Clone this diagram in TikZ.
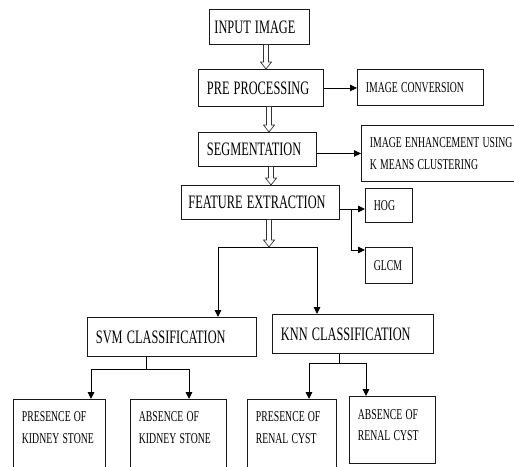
\documentclass[tikz,border=0pt]{standalone}
\usepackage{fontspec}
\usepackage{graphicx}
\setmainfont{Liberation Serif}
\newcommand{\sq}[1]{\scalebox{0.65}[1]{#1}}
\usetikzlibrary{arrows.meta,calc}
\tikzset{
  box/.style={draw=black!90, line width=0.9pt, rectangle, anchor=north west,
    align=left, inner ysep=0pt, inner xsep=8.5pt, font=\fontsize{19}{22}\selectfont},
  side/.style={box, font=\fontsize{15}{21.5}\selectfont},
  conn/.style={draw=black, line width=0.9pt},
  arr/.style={conn, -{Triangle[length=7pt,width=6.5pt]}},
  hollow/.style={draw=black!80, line width=0.7pt, fill=white}
}
\newcommand{\hollowdown}[3]{%
  \draw[hollow] let \p1=(#1.south), \p2=(#2) in
    ({#3pt-2.5pt},\y1) -- ({#3pt-2.5pt},{\y2+7pt}) -- ({#3pt-5.5pt},{\y2+7pt})
    -- ({#3pt},\y2) -- ({#3pt+5.5pt},{\y2+7pt}) -- ({#3pt+2.5pt},{\y2+7pt})
    -- ({#3pt+2.5pt},\y1);}
\begin{document}
\begin{tikzpicture}[x=1pt,y=-1pt]
\useasboundingbox (0,0) rectangle (514,466);
\clip (0,0) rectangle (514,466);
% main column
\node[box, minimum width=100pt, minimum height=35pt, text width=90pt, inner xsep=5pt] (input) at (209,9) {\sq{INPUT IMAGE}};
\node[box, minimum width=125pt, minimum height=37pt, text width=108pt] (pre) at (198,69) {\sq{PRE PROCESSING}};
\node[box, minimum width=118pt, minimum height=34pt, text width=101pt] (seg) at (198,132) {\sq{SEGMENTATION}};
\node[box, minimum width=158pt, minimum height=34pt, text width=144pt, inner xsep=7pt] (fe) at (181,185) {\sq{FEATURE EXTRACTION}};
% side boxes
\node[side, minimum width=126pt, minimum height=36pt, text width=109pt] (conv) at (357,69) {\sq{IMAGE CONVERSION}};
\node[side, minimum width=169pt, minimum height=56pt, text width=152pt] (enh) at (361,125) {\sq{IMAGE ENHANCEMENT USING}\\\sq{K MEANS CLUSTERING}};
\node[side, minimum width=47pt, minimum height=34pt, text width=30pt] (hog) at (365,188) {\sq{HOG}};
\node[side, minimum width=47pt, minimum height=36pt, text width=30pt] (glcm) at (365,247) {\sq{GLCM}};
% classifiers
\node[box, minimum width=169pt, minimum height=39pt, text width=152pt] (svm) at (87,317) {\sq{SVM CLASSIFICATION}};
\node[box, minimum width=161pt, minimum height=39pt, text width=144pt] (knn) at (272,314) {\sq{KNN CLASSIFICATION}};
% results
\node[side, text width=75pt, inner ysep=12.5pt, text depth=60pt] (pks) at (13,399) {\sq{PRESENCE OF}\\\sq{KIDNEY STONE}};
\node[side, text width=79pt, inner ysep=12.5pt, text depth=60pt] (aks) at (130,399) {\sq{ABSENCE OF}\\\sq{KIDNEY STONE}};
\node[side, text width=72pt, inner ysep=12.5pt, text depth=60pt] (prc) at (247,399) {\sq{PRESENCE OF}\\\sq{RENAL CYST}};
\node[side, text width=69pt, inner ysep=13pt, text depth=31pt] (arc) at (349,396) {\sq{ABSENCE OF}\\\sq{RENAL CYST}};
% hollow arrows
\coordinate (split) at (269,247);
\hollowdown{input}{pre.north}{266}
\hollowdown{pre}{seg.north}{269}
\hollowdown{seg}{fe.north}{271}
\hollowdown{fe}{split}{269}
% side arrows
\draw[arr] (pre.east) -- (pre.east -| conv.west);
\draw[arr] (seg.east |- enh.west) -- (enh.west);
\coordinate (hogin) at ($(hog.north west)+(0,21)$);
\coordinate (glcmin) at ($(glcm.north west)+(0,3)$);
\coordinate (br) at (351,209);
\draw[arr] (fe.east |- hogin) -- (hogin);
\draw[arr] (br) |- (glcmin);
% split to classifiers
\coordinate (sl) at (218,247);
\coordinate (sr) at (317,247);
\draw[conn] (sl) -- (sr);
\draw[arr] (sl) -- (sl |- svm.north);
\draw[arr] (sr) -- (sr |- knn.north);
% svm tree
\coordinate (sv) at (146,369);
\coordinate (svl) at (91,369);
\coordinate (svr) at (189,369);
\draw[conn] (svm.south -| sv) -- (sv);
\draw[conn] (svl) -- (svr);
\draw[arr] (svl) -- (svl |- pks.north);
\draw[arr] (svr) -- (svr |- aks.north);
% knn tree
\coordinate (kn) at (339,363);
\coordinate (knl) at (309,363);
\coordinate (knr) at (366,363);
\draw[conn] (knn.south -| kn) -- (kn);
\draw[conn] (knl) -- (knr);
\draw[arr] (knl) -- (knl |- prc.north);
\draw[arr] (knr) -- (knr |- arc.north);
\end{tikzpicture}
\end{document}
